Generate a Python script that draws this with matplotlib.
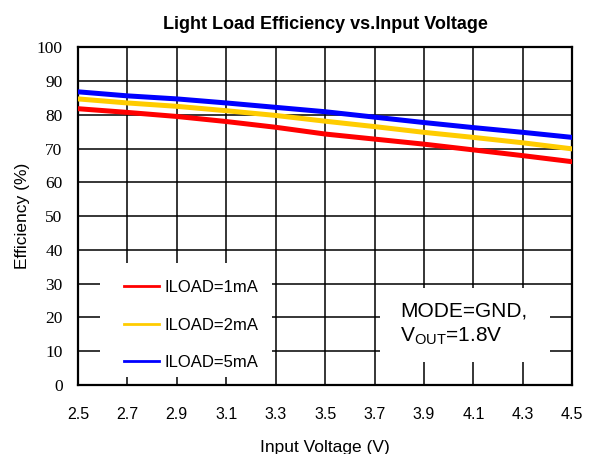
import matplotlib
matplotlib.use("Agg")
from matplotlib import pyplot as plt
from matplotlib.patches import Rectangle

# input voltage (V)
vin = [2.5, 2.7, 2.9, 3.1, 3.3, 3.5, 3.7, 3.9, 4.1, 4.3, 4.5]

# efficiency (%) per load current
eff_1ma = [81.8, 80.7, 79.5, 78.0, 76.3, 74.3, 72.8, 71.3, 69.6, 67.9, 66.1]
eff_2ma = [84.7, 83.5, 82.5, 81.2, 79.8, 78.1, 76.5, 74.8, 73.3, 71.7, 69.9]
eff_5ma = [86.8, 85.6, 84.7, 83.5, 82.2, 80.9, 79.3, 77.7, 76.2, 74.8, 73.3]

x_ticks = [2.5, 2.7, 2.9, 3.1, 3.3, 3.5, 3.7, 3.9, 4.1, 4.3, 4.5]
y_ticks = [0, 10, 20, 30, 40, 50, 60, 70, 80, 90, 100]

plt.rcParams['font.family'] = ['Liberation Sans', 'DejaVu Sans']

fig = plt.figure(figsize=(5.9, 4.54), dpi=100)
ax = fig.add_axes([0.132, 0.152, 0.838, 0.744])

# curves
ax.plot(vin, eff_1ma, color='#ff0000', lw=3.6, label='ILOAD=1mA', zorder=3)
ax.plot(vin, eff_2ma, color='#ffcc00', lw=3.6, label='ILOAD=2mA', zorder=3)
ax.plot(vin, eff_5ma, color='#0000ff', lw=3.6, label='ILOAD=5mA', zorder=3)

# grid
ax.set_axisbelow(True)
ax.grid(True, color='black', lw=1.1)
ax.set_xlim(2.5, 4.5)
ax.set_ylim(0, 100)
ax.set_xticks(x_ticks)
ax.set_xticklabels([f'{v:.1f}' for v in x_ticks], fontsize=11.5)
ax.set_yticks(y_ticks)
ax.set_yticklabels([str(v) for v in y_ticks], fontsize=12.5, family='Liberation Serif')
ax.tick_params(axis='x', length=0, pad=16)
ax.tick_params(axis='y', length=0, pad=11)
for s in ax.spines.values():
    s.set_linewidth(1.6)
    s.set_color('black')

# white boxes for the legend and the note
ax.add_patch(Rectangle((0.045, 0.024), 0.348, 0.337, transform=ax.transAxes,
                       facecolor='white', edgecolor='none', zorder=1))
ax.add_patch(Rectangle((0.611, 0.068), 0.344, 0.219, transform=ax.transAxes,
                       facecolor='white', edgecolor='none', zorder=1))

leg = ax.legend(loc='lower left', bbox_to_anchor=(0.08, 0.024), frameon=False,
                fontsize=12, handlelength=2.1, handletextpad=0.3, labelspacing=1.35,
                borderaxespad=0)
for line in leg.get_lines():
    line.set_linewidth(2)

ax.text(0.652, 0.22, 'MODE=GND,', transform=ax.transAxes, fontsize=15,
        va='center', ha='left', zorder=4)
ax.text(0.652, 0.145, r'V$_{\mathregular{OUT}}$=1.8V', transform=ax.transAxes,
        fontsize=15, va='center', ha='left', zorder=4)

ax.set_title('Light Load Efficiency vs.Input Voltage', fontsize=13,
             fontweight='bold', pad=13)
ax.set_xlabel('Input Voltage (V)', fontsize=12.5, labelpad=13)
ax.set_ylabel('Efficiency (%)', fontsize=12.5, labelpad=5)

fig.savefig('out.png', dpi=100)
